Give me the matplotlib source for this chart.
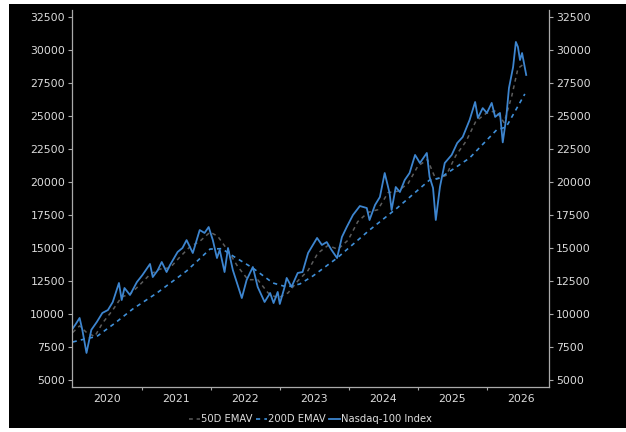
import numpy as np
import matplotlib
matplotlib.use("Agg")
import matplotlib.pyplot as plt
from matplotlib.patches import Rectangle

matplotlib.rcParams['font.family'] = 'DejaVu Sans'

# Nasdaq-100 index (decimal years)
idx_t = [2020.00, 2020.04, 2020.10, 2020.14, 2020.20, 2020.23, 2020.27, 2020.35,
         2020.43, 2020.51, 2020.58, 2020.67, 2020.71, 2020.75, 2020.83, 2020.93,
         2021.01, 2021.12, 2021.16, 2021.23, 2021.29, 2021.36, 2021.41, 2021.52,
         2021.59, 2021.65, 2021.74, 2021.84, 2021.91, 2021.97, 2022.03, 2022.09,
         2022.13, 2022.20, 2022.25, 2022.32, 2022.38, 2022.45, 2022.52, 2022.61,
         2022.68, 2022.78, 2022.86, 2022.91, 2022.97, 2023.00, 2023.07, 2023.10,
         2023.17, 2023.26, 2023.33, 2023.41, 2023.54, 2023.61, 2023.68, 2023.75,
         2023.83, 2023.90, 2023.97, 2024.06, 2024.16, 2024.26, 2024.30, 2024.38,
         2024.45, 2024.52, 2024.59, 2024.62, 2024.68, 2024.74, 2024.81, 2024.88,
         2024.96, 2025.03, 2025.13, 2025.17, 2025.22, 2025.26, 2025.32, 2025.39,
         2025.49, 2025.57, 2025.65, 2025.75, 2025.83, 2025.87, 2025.94, 2026.00,
         2026.07, 2026.12, 2026.19, 2026.23, 2026.28, 2026.32, 2026.38, 2026.42,
         2026.45, 2026.48, 2026.51, 2026.57]
idx_v = [8900, 9200, 9700, 8790, 7050, 7800, 8800, 9400,
         10080, 10300, 10900, 12350, 11060, 11970, 11440, 12420,
         12950, 13790, 12800, 13300, 13940, 13180, 13710, 14700,
         15000, 15600, 14620, 16360, 16140, 16590, 15600, 14240,
         14850, 13180, 15000, 13330, 12350, 11210, 12580, 13560,
         12050, 10910, 11590, 10830, 11670, 10760, 12050, 12730,
         12050, 13110, 13180, 14620, 15760, 15230, 15450, 14850,
         14240, 15830, 16590, 17500, 18180, 18030, 17120, 18260,
         18860, 20680, 19170, 17880, 19620, 19240, 20150, 20680,
         22050, 21440, 22200, 20380, 19550, 17120, 19620, 21440,
         22050, 22950, 23410, 24700, 26060, 24850, 25600, 25230,
         25990, 24930, 25230, 23000, 24850, 27120, 28710, 30610,
         30230, 29240, 29770, 28110]

# 50-day EMA
ema50_t = [2020.00, 2020.10, 2020.20, 2020.32, 2020.43, 2020.58, 2020.71, 2020.83,
           2020.97, 2021.12, 2021.26, 2021.41, 2021.55, 2021.70, 2021.84, 2021.99,
           2022.10, 2022.25, 2022.39, 2022.54, 2022.68, 2022.83, 2022.97, 2023.12,
           2023.26, 2023.41, 2023.55, 2023.70, 2023.84, 2023.99, 2024.13, 2024.28,
           2024.42, 2024.57, 2024.71, 2024.86, 2025.00, 2025.14, 2025.26, 2025.41,
           2025.55, 2025.70, 2025.84, 2025.99, 2026.13, 2026.25, 2026.36, 2026.45,
           2026.55]
ema50_v = [8600, 9100, 8600, 8300, 9300, 10300, 11300, 11500,
           12200, 13000, 13400, 13500, 14300, 15100, 15500, 16200,
           15900, 14800, 13600, 12600, 12600, 11600, 11200, 11600,
           12500, 13300, 14600, 15200, 14900, 15600, 17000, 17700,
           17900, 19200, 19300, 19900, 21200, 21700, 20200, 20500,
           22000, 23100, 24600, 25200, 25400, 24500, 26500, 28600,
           29000]

# 200-day EMA
ema200_t = [2020.00, 2020.17, 2020.35, 2020.61, 2020.87, 2021.22, 2021.65, 2021.99,
            2022.16, 2022.32, 2022.61, 2022.90, 2023.10, 2023.29, 2023.48, 2023.83,
            2024.30, 2024.70, 2025.17, 2025.32, 2025.75, 2026.14, 2026.28, 2026.55]
ema200_v = [7880, 8100, 8300, 9300, 10380, 11590, 13260, 14920,
            14950, 14400, 13480, 12350, 12050, 12270, 12880, 14240,
            16360, 18030, 20150, 20300, 21820, 23940, 24170, 26670]

years = [2020, 2021, 2022, 2023, 2024, 2025, 2026]
yticks = np.arange(5000, 32501, 2500)

fig = plt.figure(figsize=(6.26, 4.32), dpi=100, facecolor='white')
fig.patches.append(Rectangle((9/626, 4/432), 617/626, 424/432, transform=fig.transFigure,
                             facecolor='black', edgecolor='none', zorder=-10))

ax = fig.add_axes([72/626, 45/432, 477/626, 377/432])
ax.set_facecolor('black')
ax.set_zorder(1)

ax.plot(ema50_t, ema50_v, color='#5c5c5c', lw=1.1, ls=(0, (2.5, 2.5)), label='50D EMAV')
ax.plot(ema200_t, ema200_v, color='#3f8fd8', lw=1.2, ls=(0, (2.5, 2.5)), label='200D EMAV')
ax.plot(idx_t, idx_v, color='#3d85cf', lw=1.3, label='Nasdaq-100 Index')

ax.set_xlim(2019.99, 2026.9)
ax.set_ylim(4470, 33030)

ax.set_xticks(years[1:])
ax.set_xticklabels([])
ax.set_xticks([y + 0.5 for y in years], minor=True)
ax.set_xticklabels([str(y) for y in years], minor=True)
ax.tick_params(axis='x', which='major', length=2.5, color='#aaaaaa')
ax.tick_params(axis='x', which='minor', length=0, pad=5, labelsize=7.8, labelcolor='#dddddd')

ax.set_yticks(yticks)
ax.tick_params(axis='y', length=3, color='#aaaaaa', labelsize=7.8, labelcolor='#dddddd',
               left=True, right=True, labelleft=True, labelright=True, pad=2)

for s in ['left', 'right', 'bottom']:
    ax.spines[s].set_color('#aaaaaa')
    ax.spines[s].set_linewidth(0.9)
ax.spines['top'].set_visible(False)

leg = ax.legend(loc='center', bbox_to_anchor=(0.5, -0.085), ncol=3, frameon=False,
                fontsize=7.2, handlelength=1.1, handletextpad=0.15, columnspacing=0.3,
                labelcolor='#dddddd')

fig.savefig('out.png', dpi=100, facecolor='white')
